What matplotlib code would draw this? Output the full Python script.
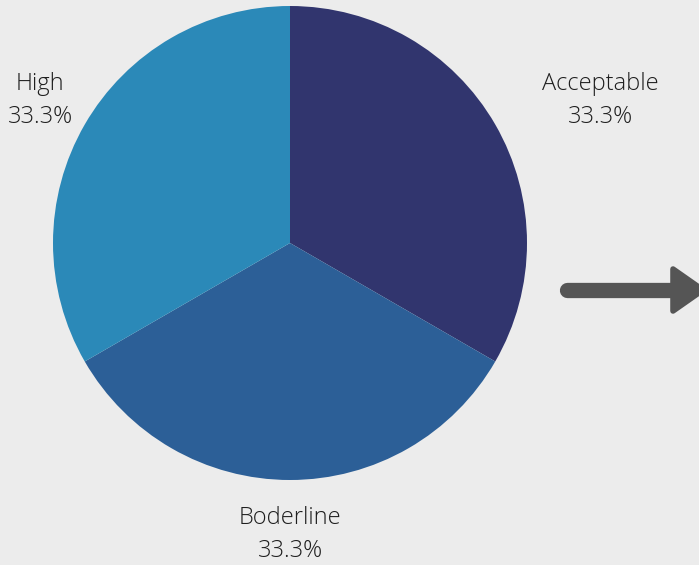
import matplotlib
matplotlib.use("Agg")
import matplotlib.pyplot as plt
from matplotlib.patches import Polygon

categories = ["Acceptable", "Boderline", "High"]
values = [1, 1, 1]
colors = ["#31356e", "#2c5f97", "#2b89b8"]

W, H = 699, 565
fig = plt.figure(figsize=(W / 100, H / 100), dpi=100)
fig.patch.set_facecolor("#ececec")
ax = fig.add_axes([0, 0, 1, 1])
ax.set_facecolor("#ececec")

R = 237.0
cx, cy = 290.0, 243.0

wedges, _ = ax.pie(values, colors=colors, startangle=90, counterclock=False,
                   radius=1.0, wedgeprops=dict(linewidth=0))

ax.set_xlim(-cx / R, (W - cx) / R)
ax.set_ylim(-(H - cy) / R, cy / R)
ax.set_aspect("equal")
ax.axis("off")

total = sum(values)
label_pos = {"Acceptable": (1.308, 0.60), "High": (-1.055, 0.60), "Boderline": (0.0, -1.23)}
for cat, v in zip(categories, values):
    x, y = label_pos[cat]
    ax.text(x, y, f"{cat}\n{100 * v / total:.1f}%", ha="center", va="center",
            fontsize=17, fontfamily="Open Sans", fontweight="light",
            color="#1e1e1e", linespacing=1.5)

# arrow
def px(x, y):
    return ((x - cx) / R, (cy - y) / R)

x0, y0 = px(567, 290)
x1, y1 = px(676, 290)
ax.plot([x0, x1], [y0, y1], color="#555555", linewidth=11, solid_capstyle="round",
        clip_on=False)
head = Polygon([px(673, 269), px(703, 290), px(673, 311)], closed=True,
               facecolor="#555555", edgecolor="#555555", linewidth=4, joinstyle="round",
               clip_on=False)
ax.add_patch(head)

fig.savefig("out.png", dpi=100, facecolor=fig.get_facecolor())
